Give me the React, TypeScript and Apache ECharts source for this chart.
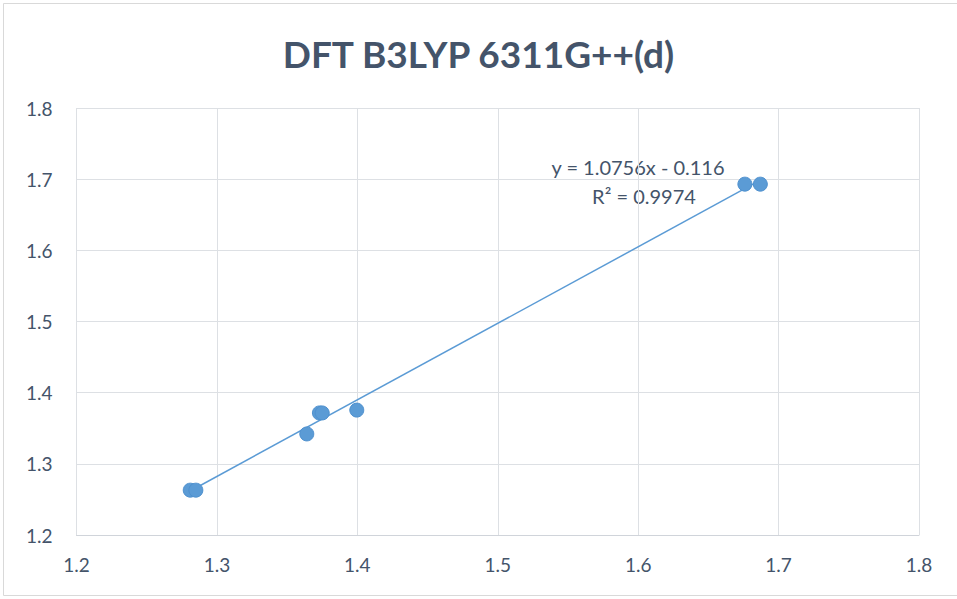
import React, { useEffect, useRef } from "react";
import * as echarts from "echarts";

const TITLE = "DFT B3LYP 6311G++(d)";
const xValues = [1.281, 1.285, 1.364, 1.373, 1.375, 1.3996, 1.676, 1.687];
const yValues = [1.263, 1.263, 1.342, 1.3715, 1.3715, 1.3755, 1.693, 1.693];
const slope = 1.0756;
const intercept = -0.116;
const equationText = "y = 1.0756x - 0.116";
const r2Text = "R² = 0.9974";

export default function App() {
  const ref = useRef<HTMLDivElement>(null);
  useEffect(() => {
    if (!ref.current) return;
    const chart = echarts.init(ref.current, null, { renderer: "svg" });
    const xmin = Math.min(...xValues);
    const xmax = Math.max(...xValues);
    const font = "Lato";
    chart.setOption({
      animation: false,
      backgroundColor: "#ffffff",
      title: {
        text: TITLE,
        left: "center",
        top: 30,
        textStyle: { fontFamily: font, fontWeight: "bold", fontSize: 37, color: "#44546A" },
      },
      grid: { left: 76.5, right: 38, top: 108, bottom: 64 },
      xAxis: {
        type: "value",
        min: 1.2,
        max: 1.8,
        interval: 0.1,
        axisLine: { show: true, lineStyle: { color: "#D0D4DA" } },
        axisTick: { show: false },
        splitLine: { show: true, lineStyle: { color: "#DDE0E4" } },
        axisLabel: { color: "#44546A", fontFamily: font, fontSize: 19, margin: 20, formatter: (v: number) => v.toFixed(1) },
      },
      yAxis: {
        type: "value",
        min: 1.2,
        max: 1.8,
        interval: 0.1,
        axisLine: { show: false },
        axisTick: { show: false },
        splitLine: { show: true, lineStyle: { color: "#DDE0E4" } },
        axisLabel: { color: "#44546A", fontFamily: font, fontSize: 19, margin: 24, formatter: (v: number) => v.toFixed(1) },
      },
      series: [
        {
          type: "line",
          data: [
            [xmin, slope * xmin + intercept],
            [xmax, slope * xmax + intercept],
          ],
          symbol: "none",
          lineStyle: { color: "#5B9BD5", width: 1.5 },
          z: 1,
        },
        {
          type: "scatter",
          data: xValues.map((x, i) => [x, yValues[i]]),
          symbolSize: 14,
          itemStyle: { color: "#5B9BD5", borderColor: "#4F91CF", borderWidth: 1, opacity: 1 },
          z: 2,
        },
      ],
      graphic: [
        {
          type: "rect",
          shape: { x: 3.5, y: 3.5, width: 960, height: 592 },
          style: { fill: "none", stroke: "#D9D9D9", lineWidth: 1 },
          silent: true,
        },
        {
          type: "text",
          x: 638,
          y: 167,
          style: { text: equationText, font: `20px "${font}"`, fill: "#44546A", align: "center", verticalAlign: "middle" },
        },
        {
          type: "text",
          x: 644,
          y: 196,
          style: { text: r2Text, font: `20px "${font}"`, fill: "#44546A", align: "center", verticalAlign: "middle" },
        },
      ],
    });
    return () => chart.dispose();
  }, []);
  return <div ref={ref} style={{ position: "fixed", left: 0, top: 0, width: 957, height: 599 }} />;
}
